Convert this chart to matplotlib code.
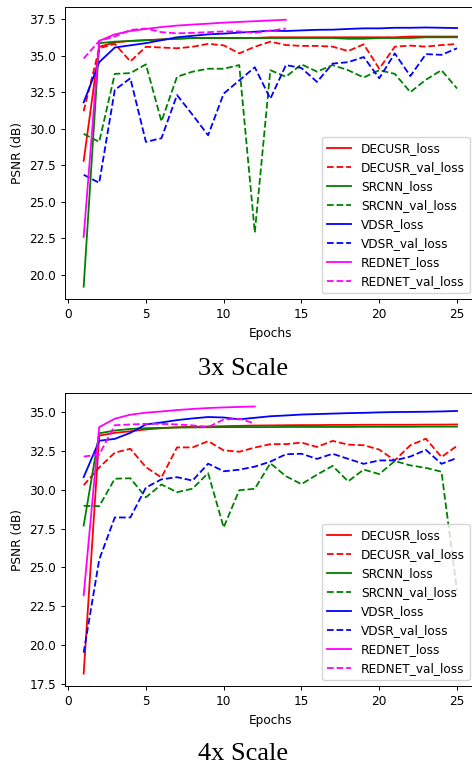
import matplotlib
matplotlib.use('Agg')
import matplotlib.pyplot as plt

# ---------------- data: 3x scale ----------------
epochs_3x = list(range(1, 26))
epochs_rednet_3x = list(range(1, 15))
decusr_loss_3x = [27.8, 35.6, 35.9, 36.0, 36.05, 36.1, 36.15, 36.2, 36.2, 36.2, 36.2, 36.2, 36.25,
                  36.25, 36.25, 36.25, 36.25, 36.25, 36.25, 36.25, 36.25, 36.3, 36.3, 36.3, 36.3]
decusr_val_3x = [31.2, 35.5, 35.8, 34.6, 35.6, 35.55, 35.5, 35.6, 35.8, 35.7, 35.15, 35.6, 35.95,
                 35.72, 35.66, 35.66, 35.61, 35.31, 35.77, 34.1, 35.61, 35.68, 35.61, 35.72, 35.79]
srcnn_loss_3x = [19.2, 35.85, 35.95, 36.0, 36.05, 36.1, 36.15, 36.2, 36.2, 36.2, 36.2, 36.2, 36.2,
                 36.2, 36.2, 36.2, 36.2, 36.15, 36.15, 36.2, 36.2, 36.2, 36.25, 36.25, 36.25]
srcnn_val_3x = [29.65, 29.1, 33.75, 33.8, 34.4, 30.5, 33.55, 33.9, 34.1, 34.1, 34.35, 22.9, 34.0,
                33.55, 34.4, 33.9, 34.35, 34.0, 33.5, 34.0, 33.75, 32.5, 33.35, 34.0, 32.75]
vdsr_loss_3x = [31.8, 34.55, 35.55, 35.7, 35.85, 36.05, 36.25, 36.35, 36.45, 36.5, 36.57, 36.63, 36.7,
                36.68, 36.72, 36.76, 36.77, 36.82, 36.86, 36.86, 36.9, 36.9, 36.92, 36.9, 36.88]
vdsr_val_3x = [26.85, 26.3, 32.65, 33.45, 29.1, 29.35, 32.3, 30.95, 29.55, 32.4, 33.3, 34.2, 32.05,
               34.35, 34.15, 33.2, 34.45, 34.55, 34.9, 33.45, 35.15, 33.6, 35.1, 35.05, 35.5]
rednet_loss_3x = [22.6, 36.0, 36.45, 36.68, 36.82, 36.95, 37.05, 37.12, 37.18, 37.25, 37.3, 37.35, 37.4, 37.45]
rednet_val_3x = [34.8, 36.0, 36.3, 36.75, 36.85, 36.6, 36.52, 36.55, 36.6, 36.65, 36.65, 36.55, 36.7, 36.85]

# ---------------- data: 4x scale ----------------
epochs_4x = list(range(1, 26))
epochs_rednet_4x = list(range(1, 13))
decusr_loss_4x = [18.15, 33.5, 33.68, 33.78, 33.9, 33.98, 34.04, 34.07, 34.09, 34.11, 34.13, 34.15, 34.16,
                  34.17, 34.18, 34.18, 34.19, 34.19, 34.2, 34.2, 34.2, 34.2, 34.21, 34.21, 34.22]
decusr_val_4x = [30.3, 31.45, 32.4, 32.65, 31.47, 30.8, 32.74, 32.74, 33.14, 32.55, 32.46, 32.73, 32.95,
                 32.95, 33.05, 32.77, 33.16, 32.92, 32.88, 32.6, 31.9, 32.88, 33.3, 32.12, 32.84]
srcnn_loss_4x = [27.7, 33.65, 33.83, 33.93, 33.98, 34.0, 34.02, 34.03, 34.04, 34.05, 34.05, 34.05, 34.05,
                 34.06, 34.06, 34.06, 34.06, 34.06, 34.07, 34.07, 34.07, 34.07, 34.08, 34.08, 34.08]
srcnn_val_4x = [28.97, 28.95, 30.72, 30.75, 29.52, 30.35, 29.85, 30.08, 31.08, 27.58, 29.98, 30.07, 31.72,
                30.88, 30.37, 30.98, 31.55, 30.55, 31.31, 31.02, 31.86, 31.58, 31.42, 31.17, 23.5]
vdsr_loss_4x = [30.82, 33.17, 33.29, 33.68, 34.22, 34.35, 34.5, 34.61, 34.7, 34.67, 34.55, 34.65, 34.75,
                34.8, 34.86, 34.89, 34.92, 34.95, 34.97, 35.0, 35.02, 35.03, 35.04, 35.06, 35.09]
vdsr_val_4x = [19.5, 25.5, 28.22, 28.22, 30.15, 30.68, 30.82, 30.6, 31.69, 31.2, 31.3, 31.5, 31.82,
               32.3, 32.33, 32.0, 32.33, 32.0, 31.68, 31.9, 31.9, 32.15, 32.58, 31.68, 32.06]
rednet_loss_4x = [23.2, 34.05, 34.59, 34.85, 34.98, 35.06, 35.15, 35.22, 35.28, 35.32, 35.35, 35.38]
rednet_val_4x = [32.15, 32.28, 34.17, 34.22, 34.26, 34.26, 34.22, 34.16, 34.05, 34.54, 34.59, 34.28]

labels = ['DECUSR_loss', 'DECUSR_val_loss', 'SRCNN_loss', 'SRCNN_val_loss',
          'VDSR_loss', 'VDSR_val_loss', 'REDNET_loss', 'REDNET_val_loss']
colors = ['#ff0000', '#ff0000', '#008000', '#008000', '#0000ff', '#0000ff', '#ff00ff', '#ff00ff']
styles = ['-', '--', '-', '--', '-', '--', '-', '--']
x_ticks = [0, 5, 10, 15, 20, 25]
captions = ['3x Scale', '4x Scale']

FS = 8.7
LW = 1.3
plt.rcParams['font.family'] = ['DejaVu Sans']

fig = plt.figure(figsize=(4.72, 7.68), dpi=100)
W, H = 472.0, 768.0
ax1 = fig.add_axes([65 / W, 1 - 299 / H, 410.7 / W, 292 / H])
ax2 = fig.add_axes([65 / W, 1 - 686 / H, 410.7 / W, 292.7 / H])

sets = [
    (ax1, epochs_3x, epochs_rednet_3x,
     [decusr_loss_3x, decusr_val_3x, srcnn_loss_3x, srcnn_val_3x,
      vdsr_loss_3x, vdsr_val_3x, rednet_loss_3x, rednet_val_3x], (18.36, 38.32)),
    (ax2, epochs_4x, epochs_rednet_4x,
     [decusr_loss_4x, decusr_val_4x, srcnn_loss_4x, srcnn_val_4x,
      vdsr_loss_4x, vdsr_val_4x, rednet_loss_4x, rednet_val_4x], (17.35, 36.23)),
]

for ax, ep, ep_r, series, ylim in sets:
    for i, (s, lab, c, ls) in enumerate(zip(series, labels, colors, styles)):
        xs = ep_r if i >= 6 else ep
        ax.plot(xs, s, color=c, linestyle=ls, linewidth=LW, label=lab)
    ax.set_xlim(-0.2, 26.2)
    ax.set_ylim(*ylim)
    ax.set_xticks(x_ticks)
    ax.set_xlabel('Epochs', fontsize=FS)
    ax.set_ylabel('PSNR (dB)', fontsize=FS)
    ax.tick_params(labelsize=FS, length=3, width=0.7)
    for sp in ax.spines.values():
        sp.set_linewidth(0.7)
    ax.legend(loc='lower right', fontsize=FS, handlelength=2.0)

fig.text(243.5 / W, 1 - 375 / H, captions[0], ha='center', va='baseline',
         fontsize=19, family='Liberation Serif')
fig.text(243.5 / W, 1 - 760 / H, captions[1], ha='center', va='baseline',
         fontsize=19, family='Liberation Serif')

fig.savefig('out.png', dpi=100)
